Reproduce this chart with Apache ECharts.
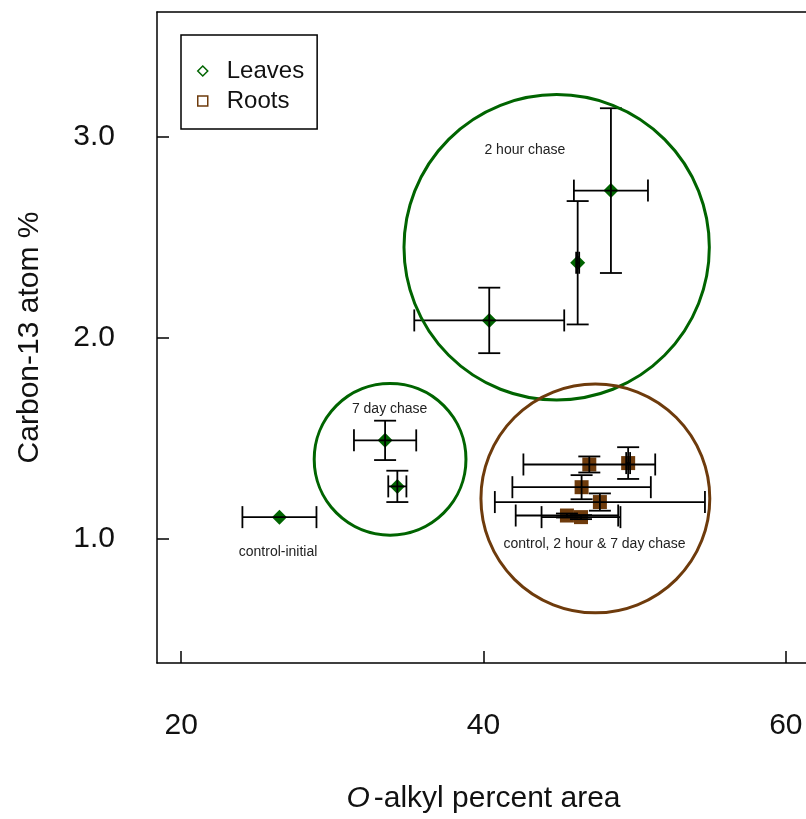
<!DOCTYPE html>
<html><head><meta charset="utf-8">
<script src="https://cdn.jsdelivr.net/npm/echarts@6/dist/echarts.min.js"></script>
<style>html,body{margin:0;padding:0;background:#fff}#c{width:806px;height:819px}</style>
</head><body><div id="c"></div>
<script>
// Tick labels
const xTicks = [20, 40, 60];
const yTicks = [1.0, 2.0, 3.0];

// Leaves (mean, error half-widths)
const leafX    = [26.5, 33.49, 34.30, 40.38, 46.23, 48.43];
const leafY    = [1.106, 1.488, 1.259, 2.085, 2.372, 2.731];
const leafXErr = [2.45, 2.06, 0.60, 4.96, 0.10, 2.45];
const leafYErr = [0.0, 0.098, 0.078, 0.163, 0.307, 0.41];

// Roots
const rootX    = [47.0, 49.57, 46.49, 47.70, 45.52, 46.45];
const rootY    = [1.368, 1.375, 1.255, 1.181, 1.114, 1.106];
const rootXErr = [4.36, 0.13, 4.58, 6.95, 3.39, 2.61];
const rootYErr = [0.04, 0.079, 0.06, 0.043, 0.01, 0.01];

// Group circles (centre in data units, radius in x units)
const circleX = [44.84, 33.82, 47.40];
const circleY = [2.449, 1.394, 1.199];
const circleR = [10.1, 5.02, 7.57];
const circleGroup = ['leaf', 'leaf', 'root'];

// Annotations
const noteText = ['2 hour chase', '7 day chase', 'control-initial', 'control, 2 hour & 7 day chase'];
const noteX = [42.74, 33.79, 26.41, 47.35];
const noteY = [2.930, 1.645, 0.932, 0.970];

const GREEN = '#006400';
const BROWN = '#6e3b0c';
const FONT = 'Liberation Sans, Arial, sans-serif';
const X_MIN = 18.4, X_MAX = 61.6, Y_MIN = 0.38, Y_MAX = 3.62;

const zip = (...a) => a[0].map((_, i) => a.map(arr => arr[i]));

const chart = echarts.init(document.getElementById('c'), null, {renderer: 'canvas'});

function errRender(params, api) {
  const x = api.value(0), y = api.value(1), ex = api.value(2), ey = api.value(3);
  const cap = 11;
  const children = [];
  const st = {stroke: '#000', lineWidth: 1.8};
  if (ex > 0) {
    const a = api.coord([x - ex, y]), b = api.coord([x + ex, y]);
    children.push({type: 'line', shape: {x1: a[0], y1: a[1], x2: b[0], y2: b[1]}, style: st});
    children.push({type: 'line', shape: {x1: a[0], y1: a[1] - cap, x2: a[0], y2: a[1] + cap}, style: st});
    children.push({type: 'line', shape: {x1: b[0], y1: b[1] - cap, x2: b[0], y2: b[1] + cap}, style: st});
  }
  if (ey > 0) {
    const a = api.coord([x, y - ey]), b = api.coord([x, y + ey]);
    children.push({type: 'line', shape: {x1: a[0], y1: a[1], x2: b[0], y2: b[1]}, style: st});
    children.push({type: 'line', shape: {x1: a[0] - cap, y1: a[1], x2: a[0] + cap, y2: a[1]}, style: st});
    children.push({type: 'line', shape: {x1: b[0] - cap, y1: b[1], x2: b[0] + cap, y2: b[1]}, style: st});
  }
  return {type: 'group', children};
}

const option = {
  animation: false,
  backgroundColor: '#fff',
  grid: {left: 157, top: 12, width: 653, height: 651, show: false, outerBoundsMode: 'none', containLabel: false},
  legend: {
    orient: 'vertical', left: 181, top: 35,
    padding: [24, 13, 16, 16], itemGap: 6,
    itemWidth: 10, itemHeight: 10,
    borderColor: '#000', borderWidth: 1.5, backgroundColor: '#fff',
    textStyle: {fontFamily: FONT, fontSize: 24, color: '#111', padding: [0, 0, 0, 14]},
    data: [
      {name: 'Leaves', icon: 'diamond', itemStyle: {color: 'rgba(0,0,0,0)', borderColor: GREEN, borderWidth: 1.5}},
      {name: 'Roots', icon: 'rect', itemStyle: {color: 'rgba(0,0,0,0)', borderColor: BROWN, borderWidth: 1.5}}
    ]
  },
  xAxis: [{
    type: 'value', min: X_MIN, max: X_MAX, position: 'bottom',
    name: '{i|O}-alkyl percent area', nameLocation: 'middle', nameGap: 121,
    nameTextStyle: {fontFamily: FONT, fontSize: 30, color: '#111', rich: {i: {fontFamily: FONT, fontSize: 30, fontStyle: 'italic', color: '#111', padding: [0, 4, 0, 0]}}},
    axisLine: {show: true, onZero: false, lineStyle: {color: '#000', width: 1.5}},
    axisTick: {show: true, inside: true, length: 12, customValues: xTicks, lineStyle: {color: '#000', width: 1.5}},
    axisLabel: {customValues: xTicks, fontFamily: FONT, fontSize: 30, color: '#111', margin: 48, formatter: v => String(v)},
    splitLine: {show: false}
  }, {
    type: 'value', min: X_MIN, max: X_MAX, position: 'top',
    axisLine: {show: true, onZero: false, lineStyle: {color: '#000', width: 1.5}},
    axisTick: {show: false}, axisLabel: {show: false}, splitLine: {show: false}
  }],
  yAxis: {
    type: 'value', min: Y_MIN, max: Y_MAX,
    name: 'Carbon-13 atom %', nameLocation: 'middle', nameGap: 112, nameRotate: 90,
    nameTextStyle: {fontFamily: FONT, fontSize: 30, color: '#111'},
    axisLine: {show: true, onZero: false, lineStyle: {color: '#000', width: 1.5}},
    axisTick: {show: true, inside: true, length: 12, customValues: yTicks, lineStyle: {color: '#000', width: 1.5}},
    axisLabel: {customValues: yTicks, fontFamily: FONT, fontSize: 30, color: '#111', margin: 42, padding: [8, 0, 0, 0], formatter: v => v.toFixed(1)},
    splitLine: {show: false}
  },
  series: [
    {
      name: 'Leaves', type: 'scatter', symbol: 'diamond', symbolSize: [15, 15], z: 3,
      itemStyle: {color: GREEN, opacity: 1},
      data: zip(leafX, leafY)
    },
    {
      name: 'Roots', type: 'scatter', symbol: 'rect', symbolSize: [14, 14], z: 3,
      itemStyle: {color: BROWN, opacity: 1},
      data: zip(rootX, rootY)
    },
    {
      name: 'leafErr', type: 'custom', z: 4, renderItem: errRender,
      encode: {x: 0, y: 1}, data: zip(leafX, leafY, leafXErr, leafYErr)
    },
    {
      name: 'rootErr', type: 'custom', z: 4, renderItem: errRender,
      encode: {x: 0, y: 1}, data: zip(rootX, rootY, rootXErr, rootYErr)
    },
    {
      name: 'circles', type: 'custom', z: 5, encode: {x: 0, y: 1},
      data: zip(circleX, circleY, circleR),
      renderItem: (params, api) => {
        const c = api.coord([api.value(0), api.value(1)]);
        const r = api.size([api.value(2), 0])[0];
        const col = circleGroup[params.dataIndex] === 'leaf' ? GREEN : BROWN;
        return {type: 'circle', shape: {cx: c[0], cy: c[1], r}, style: {fill: 'none', stroke: col, lineWidth: 3}};
      }
    },
    {
      name: 'notes', type: 'custom', z: 6, encode: {x: 0, y: 1},
      data: zip(noteX, noteY),
      renderItem: (params, api) => {
        const c = api.coord([api.value(0), api.value(1)]);
        return {type: 'text', x: c[0], y: c[1], style: {text: noteText[params.dataIndex], fontFamily: FONT, fontSize: 14, fill: '#222', align: 'center', verticalAlign: 'middle'}};
      }
    }
  ]
};
chart.setOption(option);
</script>
</body></html>
